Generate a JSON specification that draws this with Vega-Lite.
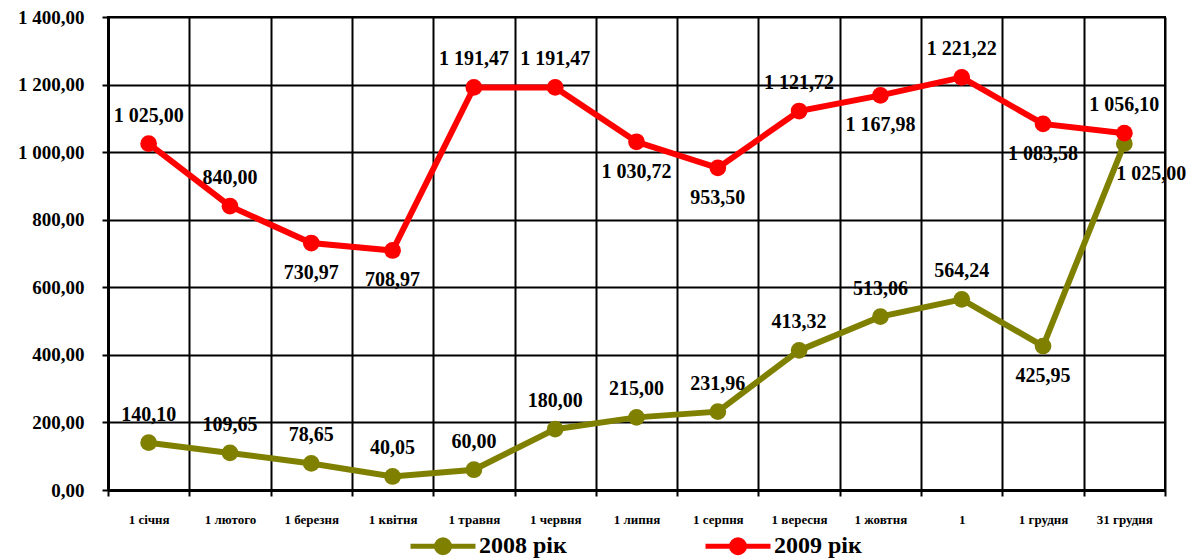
{
  "$schema": "https://vega.github.io/schema/vega-lite/v6.json",
  "width": 1057,
  "height": 473,
  "autosize": {"type": "none"},
  "padding": {"left": 108, "top": 17, "right": 32, "bottom": 70},
  "config": {
    "locale": {"number": {"decimal": ",", "thousands": " ", "grouping": [3], "currency": ["", ""]}},
    "view": {"stroke": "black", "strokeWidth": 2},
    "font": "Liberation Serif"
  },
  "data": {
    "values": [
      {"month": "1 січня", "series": "2008 рік", "value": 140.10},
      {"month": "1 лютого", "series": "2008 рік", "value": 109.65},
      {"month": "1 березня", "series": "2008 рік", "value": 78.65},
      {"month": "1 квітня", "series": "2008 рік", "value": 40.05},
      {"month": "1 травня", "series": "2008 рік", "value": 60.00},
      {"month": "1 червня", "series": "2008 рік", "value": 180.00},
      {"month": "1 липня", "series": "2008 рік", "value": 215.00},
      {"month": "1 серпня", "series": "2008 рік", "value": 231.96},
      {"month": "1 вересня", "series": "2008 рік", "value": 413.32},
      {"month": "1 жовтня", "series": "2008 рік", "value": 513.06},
      {"month": "1 листопада", "series": "2008 рік", "value": 564.24},
      {"month": "1 грудня", "series": "2008 рік", "value": 425.95},
      {"month": "31 грудня", "series": "2008 рік", "value": 1025.00},
      {"month": "1 січня", "series": "2009 рік", "value": 1025.00},
      {"month": "1 лютого", "series": "2009 рік", "value": 840.00},
      {"month": "1 березня", "series": "2009 рік", "value": 730.97},
      {"month": "1 квітня", "series": "2009 рік", "value": 708.97},
      {"month": "1 травня", "series": "2009 рік", "value": 1191.47},
      {"month": "1 червня", "series": "2009 рік", "value": 1191.47},
      {"month": "1 липня", "series": "2009 рік", "value": 1030.72},
      {"month": "1 серпня", "series": "2009 рік", "value": 953.50},
      {"month": "1 вересня", "series": "2009 рік", "value": 1121.72},
      {"month": "1 жовтня", "series": "2009 рік", "value": 1167.98},
      {"month": "1 листопада", "series": "2009 рік", "value": 1221.22},
      {"month": "1 грудня", "series": "2009 рік", "value": 1083.58},
      {"month": "31 грудня", "series": "2009 рік", "value": 1056.10}
    ]
  },
  "encoding": {
    "x": {
      "field": "month", "type": "ordinal", "sort": null,
      "scale": {"type": "band", "paddingInner": 0, "paddingOuter": 0},
      "axis": {
        "title": null, "labelAngle": 0, "tickBand": "extent",
        "grid": true, "gridColor": "black", "gridWidth": 2, "gridOpacity": 1,
        "domainColor": "black", "domainWidth": 3,
        "tickColor": "black", "tickWidth": 2, "tickSize": 6,
        "labelFont": "Liberation Serif", "labelFontSize": 13, "labelFontWeight": "bold", "labelColor": "black",
        "labelPadding": 17,
        "labelExpr": "datum.value == '1 листопада' ? '1' : datum.value"
      }
    },
    "y": {
      "field": "value", "type": "quantitative",
      "scale": {"domain": [0, 1400], "nice": false},
      "axis": {
        "title": null, "values": [0, 200, 400, 600, 800, 1000, 1200, 1400], "format": ",.2f",
        "grid": true, "gridColor": "black", "gridWidth": 2, "gridOpacity": 1,
        "domainColor": "black", "domainWidth": 3,
        "tickColor": "black", "tickWidth": 2, "tickSize": 6,
        "labelFont": "Liberation Serif", "labelFontSize": 19, "labelFontWeight": "bold", "labelColor": "black",
        "labelPadding": 18
      }
    },
    "color": {
      "field": "series", "type": "nominal",
      "scale": {"domain": ["2008 рік", "2009 рік"], "range": ["#808000", "#FF0000"]},
      "legend": {
        "orient": "none", "legendX": 300, "legendY": 494, "direction": "horizontal", "title": null,
        "symbolType": "M-1,0H1M0.2,0A0.2,0.2 0 1,1 -0.2,0A0.2,0.2 0 1,1 0.2,0Z",
        "symbolSize": 4225, "symbolStrokeWidth": 5,
        "labelFont": "Liberation Serif", "labelFontSize": 24, "labelFontWeight": "bold", "labelColor": "black",
        "labelOffset": 1, "columnPadding": 128
      }
    }
  },
  "layer": [
    {"mark": {"type": "line", "strokeWidth": 6}},
    {"mark": {"type": "point", "filled": true, "size": 280, "opacity": 1}},
    {
      "transform": [{"filter": "!((datum.series == '2009 рік' && indexof(['1 березня','1 квітня','1 липня','1 серпня','1 жовтня','1 грудня'], datum.month) >= 0) || (datum.series == '2008 рік' && (datum.month == '1 грудня' || datum.month == '31 грудня')))"}],
      "mark": {"type": "text", "dy": -28, "fontSize": 20, "fontWeight": "bold", "font": "Liberation Serif", "color": "black"},
      "encoding": {"text": {"field": "value", "type": "quantitative", "format": ",.2f"}, "color": {"value": "black"}}
    },
    {
      "transform": [{"filter": "(datum.series == '2009 рік' && indexof(['1 березня','1 квітня','1 липня','1 серпня','1 жовтня','1 грудня'], datum.month) >= 0) || (datum.series == '2008 рік' && datum.month == '1 грудня')"}],
      "mark": {"type": "text", "dy": 30, "fontSize": 20, "fontWeight": "bold", "font": "Liberation Serif", "color": "black"},
      "encoding": {"text": {"field": "value", "type": "quantitative", "format": ",.2f"}, "color": {"value": "black"}}
    },
    {
      "transform": [{"filter": "datum.series == '2008 рік' && datum.month == '31 грудня'"}],
      "mark": {"type": "text", "dy": 30, "dx": 27, "fontSize": 20, "fontWeight": "bold", "font": "Liberation Serif", "color": "black"},
      "encoding": {"text": {"field": "value", "type": "quantitative", "format": ",.2f"}, "color": {"value": "black"}}
    }
  ]
}
